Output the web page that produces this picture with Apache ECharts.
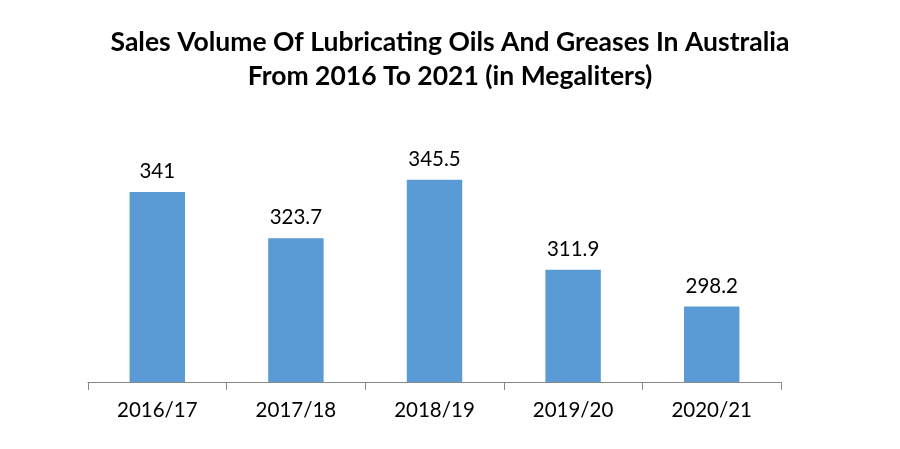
<!DOCTYPE html>
<html>
<head>
<meta charset="utf-8">
<script src="https://cdn.jsdelivr.net/npm/echarts@6/dist/echarts.min.js"></script>
<style>html,body{margin:0;padding:0;background:#fff;}#c{width:900px;height:449px;}</style>
</head>
<body>
<div id="c"></div>
<script>
const categories = ['2016/17', '2017/18', '2018/19', '2019/20', '2020/21'];
const values = [341, 323.7, 345.5, 311.9, 298.2];
const titleText = 'Sales Volume Of Lubricating Oils And Greases In Australia\nFrom 2016 To 2021 (in Megaliters)';

const chart = echarts.init(document.getElementById('c'));
chart.setOption({
  animation: false,
  title: {
    text: titleText,
    left: 'center',
    top: 20,
    textStyle: {
      fontFamily: 'Lato',
      fontWeight: 'bold',
      fontSize: 26.5,
      lineHeight: 34,
      color: '#000'
    }
  },
  grid: { left: 88, right: 119, top: 141, bottom: 67 },
  xAxis: {
    type: 'category',
    data: categories,
    axisLine: { lineStyle: { color: '#898989', width: 1 } },
    axisTick: { show: true, length: 8, lineStyle: { color: '#898989' } },
    axisLabel: { fontFamily: 'Lato', fontSize: 20.5, color: '#000', margin: 18 }
  },
  yAxis: {
    type: 'value',
    min: 270,
    max: 360,
    show: false,
    splitLine: { show: false }
  },
  series: [{
    type: 'bar',
    data: values,
    barWidth: '40%',
    itemStyle: { color: '#5B9BD5' },
    label: {
      show: true,
      position: 'top',
      distance: 10,
      fontFamily: 'Lato',
      fontSize: 20.5,
      color: '#000'
    }
  }]
});
</script>
</body>
</html>
